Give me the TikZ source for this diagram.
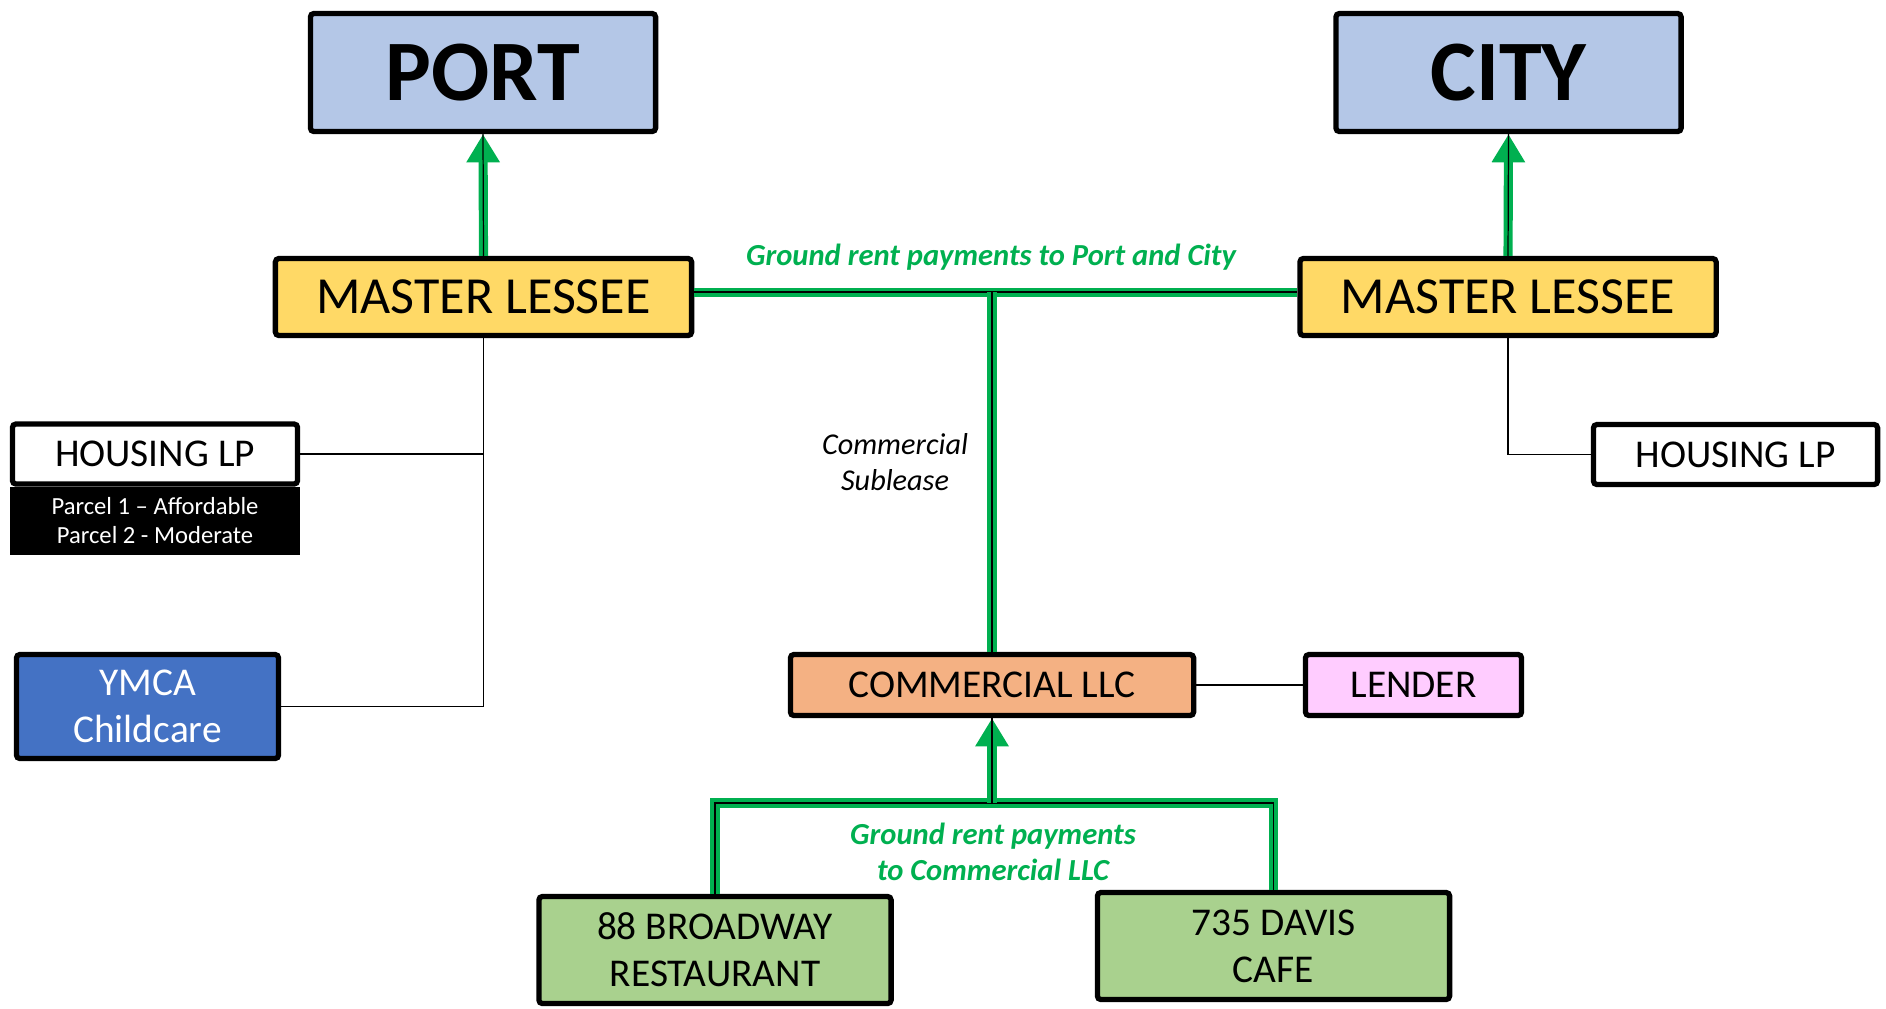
\documentclass[tikz,border=0pt]{standalone}
\usepackage{fontspec}
\setmainfont{Carlito}
\usepackage{xcolor}
\usetikzlibrary{positioning,arrows.meta}

\definecolor{govblue}{HTML}{B4C7E7}
\definecolor{lesseeyellow}{HTML}{FFD966}
\definecolor{ymcablue}{HTML}{4472C4}
\definecolor{llcorange}{HTML}{F4B183}
\definecolor{lenderpink}{HTML}{FFCCFF}
\definecolor{tenantgreen}{HTML}{A9D18E}
\definecolor{rentgreen}{HTML}{00B050}

\begin{document}
\begin{tikzpicture}[
      x=0.01cm, y=-0.01cm,
      box/.style={draw, line width=1.5pt, rounded corners=1pt, align=center, inner sep=0pt,
                  font=\fontsize{11.2}{13.3}\selectfont},
      govbox/.style={box, fill=govblue, minimum width=3.45cm, minimum height=1.18cm,
                  font=\fontsize{24.5}{28}\selectfont\bfseries},
      lessee/.style={box, fill=lesseeyellow, minimum width=4.16cm, minimum height=0.77cm,
                  font=\fontsize{14.8}{17}\selectfont},
      tenant/.style={box, fill=tenantgreen, minimum width=3.52cm, minimum height=1.07cm},
      link/.style={draw, line width=0.35pt},
      rent/.style={draw=rentgreen, line width=2.6pt,
                  postaction={draw=black, line width=0.35pt, -}},
      rentarrow/.style={rent, -{Triangle[length=8pt, width=9pt]}},
      rentlabel/.style={text=rentgreen, align=center,
                  font=\fontsize{8.7}{10.3}\selectfont\bfseries\itshape}
  ]
  \useasboundingbox (0,0) rectangle (1886,1008);

  %% ---- Owners ----
  \node[govbox] (port) at (483,72.5) {PORT};
  \node[govbox] (city) at (1508.5,72.5) {CITY};

  %% ---- Master lessees ----
  \node[lessee] (mlL) at (483.5,297) {MASTER LESSEE};
  \node[lessee] (mlR) at (1508,297) {MASTER LESSEE};

  %% ---- Left side tenants ----
  \node[box, fill=white, minimum width=2.85cm, minimum height=0.6cm] (hlpL) at (155,454)
      {HOUSING LP};
  \node[box, fill=black, text=white, rounded corners=0pt, minimum width=2.85cm,
        minimum height=0.63cm, font=\fontsize{7}{8.2}\selectfont, below=0pt of hlpL]
      (hlpLsub) {Parcel 1 – Affordable\\Parcel 2 - Moderate};
  \node[box, fill=ymcablue, text=white, minimum width=2.62cm, minimum height=1.04cm]
      (ymca) at (147.5,706.5) {YMCA\\Childcare};

  %% ---- Right side tenant ----
  \node[box, fill=white, minimum width=2.84cm, minimum height=0.6cm] (hlpR)
      at (1735.5,454.5) {HOUSING LP};

  %% ---- Commercial ----
  \node[box, fill=llcorange, minimum width=4.03cm, minimum height=0.61cm] (comm)
      at (992,685) {COMMERCIAL LLC};
  \node[box, fill=lenderpink, minimum width=2.16cm, minimum height=0.61cm] (lender)
      at (1413.5,685) {LENDER};

  %% ---- Subtenants ----
  \node[tenant] (broadway) at (715,950) {88 BROADWAY\\RESTAURANT};
  \node[tenant] (davis) at (1273.5,946) {735 DAVIS\\CAFE};

  %% ---- Connections ----

  % Lease links
  \draw[link] (mlL.south) |- (hlpL.east);
  \draw[link] (mlL.south) |- (ymca.east);
  \draw[link] (mlR.south) |- (hlpR.west);
  \draw[link] (comm) -- (lender);

  % Ground rent to Port and City
  \coordinate (rentL) at ([yshift=1.4pt]mlL.east);
  \coordinate (rentR) at ([yshift=1.4pt]mlR.west);
  \draw[rent] (rentL) -- (rentR);
  \draw[rent] (comm.north) -- (comm.north |- rentL);
  \draw[rentarrow] (mlL.north) -- (port.south);
  \draw[rentarrow] (mlR.north) -- (city.south);

  % Ground rent to Commercial LLC
  \coordinate (split) at (992,803);
  \draw[rent] (broadway.north) |- (split);
  \draw[rent] (davis.north) |- (split);
  \draw[rentarrow] (split) -- (comm.south);

  %% ---- Labels ----
  \node[rentlabel] (toportcity) at (991,257) {Ground rent payments to Port and City};
  \node[align=center, font=\fontsize{8.6}{10.3}\selectfont\itshape] (sublease)
      at (895,462) {Commercial\\Sublease};
  \node[rentlabel] (tollc) at (993,852) {Ground rent payments\\to Commercial LLC};

\end{tikzpicture}
\end{document}
